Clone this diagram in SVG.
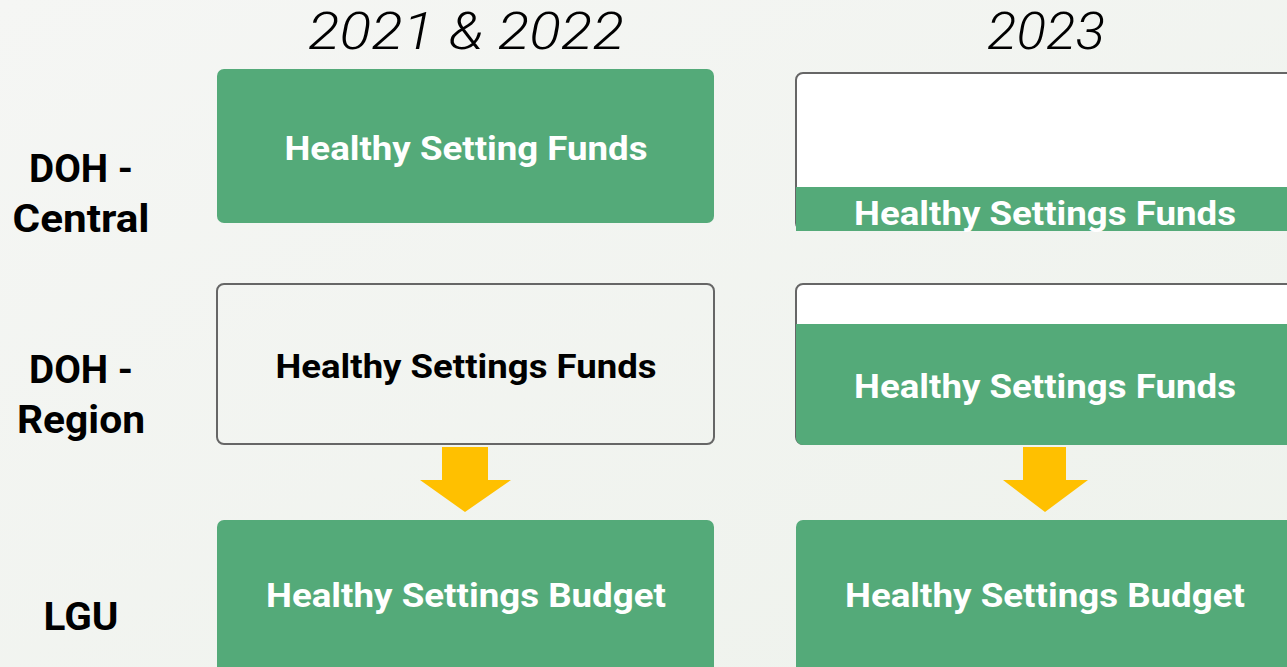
<svg xmlns="http://www.w3.org/2000/svg" width="1287" height="667" viewBox="0 0 1287 667">
<defs>
<linearGradient id="bg" x1="0" y1="0" x2="1" y2="1">
<stop offset="0" stop-color="#f5f6f4"/>
<stop offset="1" stop-color="#eef2ec"/>
</linearGradient>
</defs>
<style>
.green{fill:#54aa79}
.wt{fill:#ffffff;stroke:#666;stroke-width:2}
.ol{fill:none;stroke:#666;stroke-width:2}
.lbl{font-family:Roboto,"Liberation Sans",sans-serif;font-weight:bold;font-size:38px;fill:#000;text-anchor:middle}
.bt{font-family:Roboto,"Liberation Sans",sans-serif;font-weight:bold;font-size:33px;text-anchor:middle}
.w{fill:#fff}
.k{fill:#000}
.ttl{font-family:Roboto,"Liberation Sans",sans-serif;font-style:italic;font-weight:300;font-size:52px;fill:#000;text-anchor:middle}
.arr{fill:#ffc000}
</style>
<rect width="1287" height="667" fill="url(#bg)"/>
<text class="ttl" x="466" y="49" textLength="316" lengthAdjust="spacingAndGlyphs">2021 &amp; 2022</text>
<text class="ttl" x="1046" y="49" textLength="118" lengthAdjust="spacingAndGlyphs">2023</text>
<g id="labels">
<text class="lbl" x="81" y="182" textLength="104" lengthAdjust="spacingAndGlyphs">DOH -</text>
<text class="lbl" x="81" y="232" textLength="137" lengthAdjust="spacingAndGlyphs">Central</text>
<text class="lbl" x="81" y="383" textLength="104" lengthAdjust="spacingAndGlyphs">DOH -</text>
<text class="lbl" x="81" y="433" textLength="128" lengthAdjust="spacingAndGlyphs">Region</text>
<text class="lbl" x="81" y="630" textLength="75" lengthAdjust="spacingAndGlyphs">LGU</text>
</g>
<g id="n1">
<rect class="green" x="217" y="69" width="497" height="154" rx="7"/>
<text class="bt w" x="466" y="160" textLength="363" lengthAdjust="spacingAndGlyphs">Healthy Setting Funds</text>
</g>
<g id="n2">
<rect class="wt" x="796" y="73" width="520" height="157" rx="7"/>
<rect class="green" x="796" y="187" width="520" height="44"/>
<text class="bt w" x="1045" y="225" textLength="382" lengthAdjust="spacingAndGlyphs">Healthy Settings Funds</text>
</g>
<g id="n3">
<rect class="ol" x="217" y="284" width="497" height="160" rx="7"/>
<text class="bt k" x="466" y="378" textLength="381" lengthAdjust="spacingAndGlyphs">Healthy Settings Funds</text>
</g>
<g id="n4">
<rect class="wt" x="796" y="284" width="520" height="160" rx="7"/>
<rect class="green" x="796" y="324" width="520" height="121" rx="7"/>
<rect class="green" x="796" y="324" width="520" height="20"/>
<text class="bt w" x="1045" y="398" textLength="382" lengthAdjust="spacingAndGlyphs">Healthy Settings Funds</text>
</g>
<g id="n5">
<rect class="green" x="217" y="520" width="497" height="160" rx="7"/>
<text class="bt w" x="466" y="607" textLength="400" lengthAdjust="spacingAndGlyphs">Healthy Settings Budget</text>
</g>
<g id="n6">
<rect class="green" x="796" y="520" width="520" height="160" rx="7"/>
<text class="bt w" x="1045" y="607" textLength="400" lengthAdjust="spacingAndGlyphs">Healthy Settings Budget</text>
</g>
<g id="connectors">
<polygon class="arr" points="442,447 488,447 488,480 511,480 465,512 420,480 442,480"/>
<polygon class="arr" points="1023,447 1066,447 1066,480 1088,480 1045,512 1003,480 1023,480"/>
</g>
</svg>
